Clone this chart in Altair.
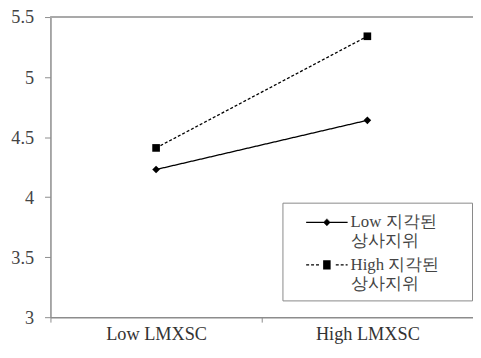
import altair as alt
import pandas as pd

conditions = ["Low LMXSC", "High LMXSC"]
series = ["Low 지각된 상사지위", "High 지각된 상사지위"]
low_values = [4.23, 4.64]
high_values = [4.41, 5.34]
y_ticks = [3, 3.5, 4, 4.5, 5, 5.5]

rows = []
for s, vals in zip(series, [low_values, high_values]):
    for c, v in zip(conditions, vals):
        rows.append({"cond": c, "value": v, "series": s})
df = pd.DataFrame(rows)

FONT = "Liberation Serif"
GRAY = "#8c8c8c"

x_enc = alt.X("cond:N", sort=conditions, title=None,
              scale=alt.Scale(paddingInner=0, paddingOuter=0),
              axis=alt.Axis(labelAngle=0, tickBand="extent", tickSize=5, labelPadding=3,
                            labelFontSize=18.5, labelColor="#333",
                            domainColor=GRAY, tickColor=GRAY, domainWidth=1.5, grid=False))
y_enc = alt.Y("value:Q", title=None,
              scale=alt.Scale(domain=[3, 5.5], nice=False, zero=False),
              axis=alt.Axis(values=y_ticks, tickSize=6, labelPadding=11, grid=False,
                            labelFontSize=18.5, labelColor="#444",
                            domainColor=GRAY, tickColor=GRAY, domainWidth=1.5,
                            labelFlush=False, format="~g"))

base = alt.Chart(df)

top_rule = alt.Chart(df).mark_rule(color="#a8a8a8", strokeWidth=1.5).encode(
    y=alt.datum(5.5)
)

lines = base.mark_line(color="black", strokeWidth=1.3).encode(
    x=x_enc, y=y_enc,
    strokeDash=alt.StrokeDash("series:N", scale=alt.Scale(domain=series, range=[[1, 0], [3, 2]]),
                              legend=None),
    detail="series:N",
)

points = base.mark_point(filled=True, color="black", opacity=1, size=60).encode(
    x=x_enc, y=y_enc,
    shape=alt.Shape("series:N", scale=alt.Scale(domain=series, range=["diamond", "square"]),
                    legend=None),
)

# legend glyphs (units of 10 px): line from 0.4 to 4.6, marker at 2.5
MC = 2.5
def hline(a, b, y=0.0):
    return f"M{a:.2f},{y:.2f}H{b:.2f}"

solid_path = hline(0.4, 4.6)
for i in range(-3, 4):
    y = i * 0.1
    h = 0.36 - abs(y)
    solid_path += hline(MC - h, MC + h, y)

dash_path = ""
a = 0.4
while a < 4.6:
    b = min(a + 0.3, 4.6)
    if b < MC - 0.4 or a > MC + 0.4:
        dash_path += hline(a, b)
    a += 0.5
for i in range(-4, 5):
    y = i * 0.1
    dash_path += hline(MC - 0.38, MC + 0.38, y)

# extend the legend box to the right (moveTo only, nothing drawn)
solid_path += "M16,0"
dash_path += "M16,0"

legend_layer = base.mark_point(opacity=0, size=400, strokeWidth=1.2, color="black").encode(
    x=x_enc, y=y_enc,
    shape=alt.Shape("series:N", scale=alt.Scale(domain=series, range=[solid_path, dash_path]),
                    legend=alt.Legend(
                        title=None, orient="none", legendX=235, legendY=188,
                        symbolSize=400, symbolOpacity=1,
                        symbolStrokeColor="black", symbolStrokeWidth=1.2,
                        labelFontSize=17, labelColor="#444",
                        labelLimit=300, rowPadding=5, labelOffset=38,
                        labelExpr="[slice(datum.label, 0, lastindexof(datum.label, ' ')), slice(datum.label, lastindexof(datum.label, ' ') + 1)]",
                        strokeColor="#888", fillColor="white", padding=9,
                    )),
)

chart = alt.layer(top_rule, lines, points, legend_layer).resolve_scale(
    shape="independent"
).resolve_legend(shape="independent").properties(
    width=428, height=304,
    autosize=alt.AutoSizeParams(type="none"),
    padding={"left": 43, "top": 7, "right": 0, "bottom": 27},
).configure(font=FONT).configure_axis(labelFont=FONT).configure_legend(
    labelFont=FONT
).configure_view(stroke="transparent")

chart.save("out.html", embed_options={"renderer": "svg", "actions": False})
